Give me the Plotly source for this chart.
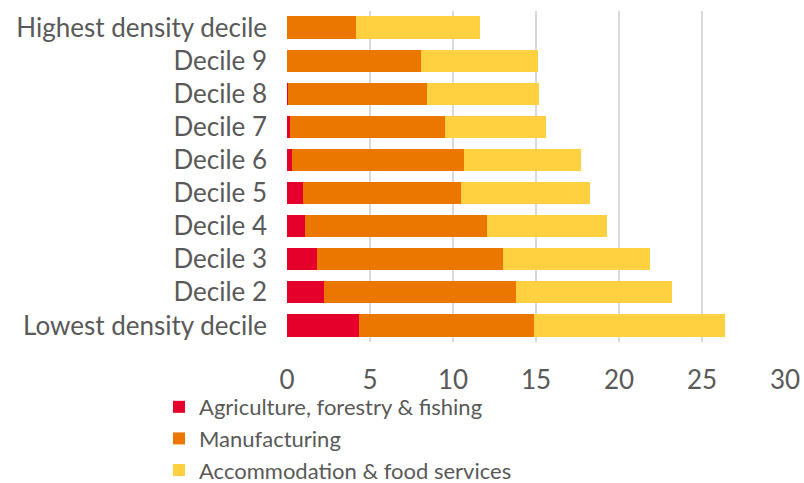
import plotly.graph_objects as go

categories = ["Highest density decile", "Decile 9", "Decile 8", "Decile 7", "Decile 6",
              "Decile 5", "Decile 4", "Decile 3", "Decile 2", "Lowest density decile"]
agriculture = [0.0, 0.02, 0.05, 0.16, 0.28, 0.95, 1.07, 1.79, 2.25, 4.34]
manufacturing = [4.18, 8.05, 8.37, 9.38, 10.37, 9.53, 10.96, 11.22, 11.57, 10.52]
accommodation = [7.47, 7.08, 6.76, 6.09, 7.05, 7.76, 7.23, 8.84, 9.35, 11.51]
x_ticks = [0, 5, 10, 15, 20, 25, 30]

series = [
    ("Agriculture, forestry & fishing", agriculture, "#E4002B"),
    ("Manufacturing", manufacturing, "#EC7700"),
    ("Accommodation & food services", accommodation, "#FFD040"),
]

FONT = "Lato"
GREY = "#595959"

fig = go.Figure()
for name, vals, color in series:
    fig.add_trace(go.Bar(y=categories, x=vals, name=name, orientation="h",
                         marker=dict(color=color, line=dict(width=0))))

fig.update_layout(
    barmode="stack",
    bargap=0.33,
    width=804, height=510,
    margin=dict(l=287, r=19, t=11, b=168),
    paper_bgcolor="white", plot_bgcolor="white",
    font=dict(family=FONT, size=24, color=GREY),
    showlegend=True,
    legend=dict(orientation="v", x=-0.257, xanchor="left", y=-0.133, yanchor="top",
                traceorder="normal", font=dict(size=22, color=GREY),
                itemwidth=30, tracegroupgap=0, bgcolor="rgba(0,0,0,0)"),
    xaxis=dict(range=[0, 30], tickvals=x_ticks, showgrid=True, gridcolor="#D9D9D9",
               gridwidth=2, zeroline=False, showline=False, ticks="",
               tickfont=dict(size=26, color=GREY), ticklabelstandoff=20, automargin=False),
    yaxis=dict(autorange="reversed", showgrid=False, showline=False, ticks="",
               tickfont=dict(size=26, color=GREY), ticklabelstandoff=19, automargin=False),
)

fig.write_html("out.html", config={"displayModeBar": False},
               post_script="document.body.style.margin='0';document.body.style.overflow='hidden';")
